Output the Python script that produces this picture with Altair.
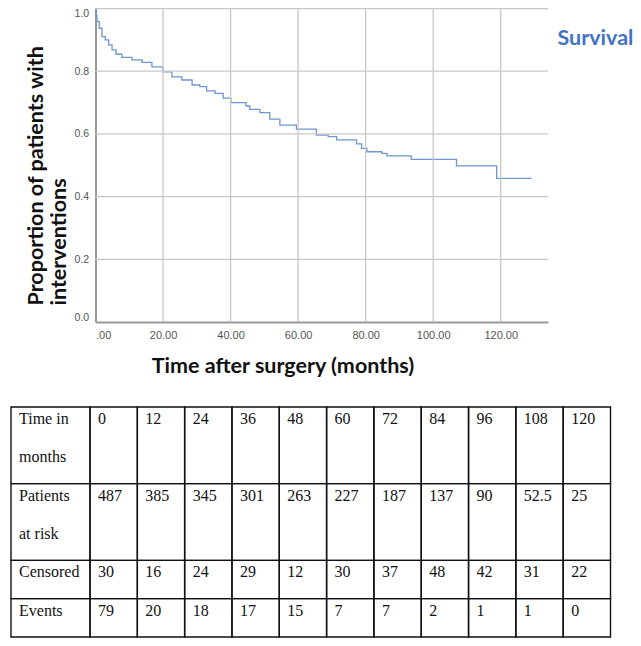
import altair as alt
import pandas as pd

# ---------------- data ----------------
KM_TIME = [0, 0.2, 0.4, 1.1, 1.9, 2.9, 3.9, 4.9, 6.1, 7.8,
           10.8, 13.8, 16.7, 19.9, 22.6, 25.6, 28.6, 30.9, 32.9, 35.4,
           37.8, 40.1, 44.6, 45.7, 48.7, 51.6, 54.6, 59.5, 65.4, 68.9,
           71.4, 77.3, 78.8, 80.4, 84.8, 86.3, 93.5, 106.9, 118.8, 129.1]
KM_SURV = [1.0, 0.979, 0.958, 0.937, 0.910, 0.900, 0.884, 0.868, 0.854, 0.844,
           0.836, 0.828, 0.814, 0.798, 0.782, 0.772, 0.756, 0.751, 0.737, 0.729,
           0.714, 0.700, 0.689, 0.678, 0.668, 0.647, 0.628, 0.615, 0.596, 0.591,
           0.581, 0.568, 0.554, 0.543, 0.538, 0.530, 0.519, 0.498, 0.458, 0.458]
SERIES = "Survival"

X_TICKS = [0, 20, 40, 60, 80, 100, 120]
Y_TICKS = [0.0, 0.2, 0.4, 0.6, 0.8, 1.0]

ROW_LABELS = [["Time in", "months"], ["Patients", "at risk"], ["Censored"], ["Events"]]
TIME_MONTHS = [0, 12, 24, 36, 48, 60, 72, 84, 96, 108, 120]
AT_RISK = [487, 385, 345, 301, 263, 227, 187, 137, 90, 52.5, 25]
CENSORED = [30, 16, 24, 29, 12, 30, 37, 48, 42, 31, 22]
EVENTS = [79, 20, 18, 17, 15, 7, 7, 2, 1, 1, 0]

# ---------------- layout / style ----------------
W, H = 625, 630
X_DOMAIN = [0, 134]
X_RANGE = [87.5, 540]
Y_RANGE = [314, 0.5]
TABLE_X_RANGE = [3, 602.5]
TABLE_Y_RANGE = [399, 629]
HEADER_SPAN = 1.67          # width of the label column, in data-column widths

LINE_COLOR = "#6f96d1"
GRID_COLOR = "#c8c8c8"
AXIS_COLOR = "#999999"
TITLE_FONT = "Lato"
TITLE_SIZE = 21.5

def fmt(v):
    return f"{v:g}"

# ---------------- survival chart ----------------
def xs():
    return alt.Scale(domain=X_DOMAIN, range=X_RANGE, nice=False, zero=False)

def ys():
    return alt.Scale(domain=[0, 1], range=Y_RANGE, nice=False, zero=False)

km_df = pd.DataFrame({"t": KM_TIME, "s": KM_SURV, "series": SERIES})
vgrid_df = pd.DataFrame({"t": X_TICKS[1:], "y0": 0.0, "y1": 1.0})
hgrid_df = pd.DataFrame({"s": Y_TICKS[1:], "x0": X_DOMAIN[0], "x1": X_DOMAIN[1]})

vgrid = alt.Chart(vgrid_df).mark_rule(color=GRID_COLOR, strokeWidth=1.3).encode(
    x=alt.X("t:Q", scale=xs(), axis=None),
    y=alt.Y("y0:Q", scale=ys(), axis=None),
    y2="y1:Q",
)
hgrid = alt.Chart(hgrid_df).mark_rule(color=GRID_COLOR, strokeWidth=1.3).encode(
    y=alt.Y("s:Q", scale=ys(), axis=None),
    x=alt.X("x0:Q", scale=xs(), axis=None),
    x2="x1:Q",
)

x_axis = alt.Axis(
    values=X_TICKS, grid=False, ticks=False, orient="bottom",
    labelExpr="datum.value == 0 ? '.00' : format(datum.value, '.2f')",
    labelFont="Liberation Sans", labelFontSize=11, labelColor="#555555",
    labelPadding=7, labelFlush=True,
    domainColor=AXIS_COLOR, domainWidth=2, offset=-(H - Y_RANGE[0]),
    title="Time after surgery (months)",
    titleFont=TITLE_FONT, titleFontSize=TITLE_SIZE, titleFontWeight="bold", titleColor="#111111",
    titleX=274.5, titleY=44, titleAlign="center", titleBaseline="middle",
)
y_axis = alt.Axis(
    values=Y_TICKS, grid=False, ticks=False, format=".1f", orient="left",
    labelFont="Liberation Sans", labelFontSize=10.5, labelColor="#555555",
    labelPadding=7, labelFlush=True,
    domainColor=AXIS_COLOR, domainWidth=2, offset=-X_RANGE[0],
    title=["Proportion of patients with", "interventions"],
    titleFont=TITLE_FONT, titleFontSize=TITLE_SIZE, titleFontWeight="bold", titleColor="#111111",
    titleAngle=270, titleAlign="left", titleBaseline="top", titleLineHeight=23,
    titleX=17 - X_RANGE[0], titleY=297,
)

line = alt.Chart(km_df).mark_line(interpolate="step-after", strokeWidth=1.3).encode(
    x=alt.X("t:Q", scale=xs(), axis=x_axis),
    y=alt.Y("s:Q", scale=ys(), axis=y_axis),
    color=alt.Color(
        "series:N",
        scale=alt.Scale(domain=[SERIES], range=[LINE_COLOR]),
        legend=alt.Legend(
            title=None, orient="none", legendX=528, legendY=20,
            symbolSize=0, symbolOpacity=0, symbolStrokeWidth=0, labelOffset=0,
            labelFont=TITLE_FONT, labelFontSize=TITLE_SIZE, labelFontWeight="bold",
            labelColor="#4472c4",
        ),
    ),
)

# ---------------- table ----------------
row_lines = [len(r) for r in ROW_LABELS]
row_top = [sum(row_lines[:i]) for i in range(len(row_lines))]
n_units = sum(row_lines)
col_left = [0.0] + [HEADER_SPAN + i for i in range(len(TIME_MONTHS))]
col_right = [HEADER_SPAN] + [HEADER_SPAN + i + 1 for i in range(len(TIME_MONTHS))]

rows_values = [TIME_MONTHS, AT_RISK, CENSORED, EVENTS]

cells, texts = [], []
for r, vals in enumerate(rows_values):
    for c in range(len(col_left)):
        cells.append({"x0": col_left[c], "x1": col_right[c],
                      "y0": row_top[r], "y1": row_top[r] + row_lines[r]})
    for k, lab in enumerate(ROW_LABELS[r]):
        texts.append({"x": col_left[0], "y": row_top[r] + k, "label": lab})
    for c, v in enumerate(vals):
        texts.append({"x": col_left[c + 1], "y": row_top[r], "label": fmt(v)})

def tx():
    return alt.Scale(domain=[0, col_right[-1]], range=TABLE_X_RANGE, nice=False, zero=False)

def ty():
    return alt.Scale(domain=[0, n_units], range=TABLE_Y_RANGE, nice=False, zero=False)

cell_layer = alt.Chart(pd.DataFrame(cells)).mark_rect(
    fillOpacity=0, stroke="#111111", strokeWidth=1.4
).encode(
    x=alt.X("x0:Q", scale=tx(), axis=None), x2="x1:Q",
    y=alt.Y("y0:Q", scale=ty(), axis=None), y2="y1:Q",
)
text_layer = alt.Chart(pd.DataFrame(texts)).mark_text(
    align="left", baseline="middle", dx=8, dy=12,
    font="Liberation Serif", fontSize=16, color="#111111",
).encode(
    x=alt.X("x:Q", scale=tx(), axis=None),
    y=alt.Y("y:Q", scale=ty(), axis=None),
    text="label:N",
)

chart = alt.layer(line, vgrid, hgrid, cell_layer, text_layer).resolve_scale(
    x="independent", y="independent"
).properties(
    width=W, height=H, padding=0,
    autosize=alt.AutoSizeParams(type="none"),
).configure_view(stroke=None)

chart.save("out.html", embed_options={"renderer": "svg", "actions": False})
